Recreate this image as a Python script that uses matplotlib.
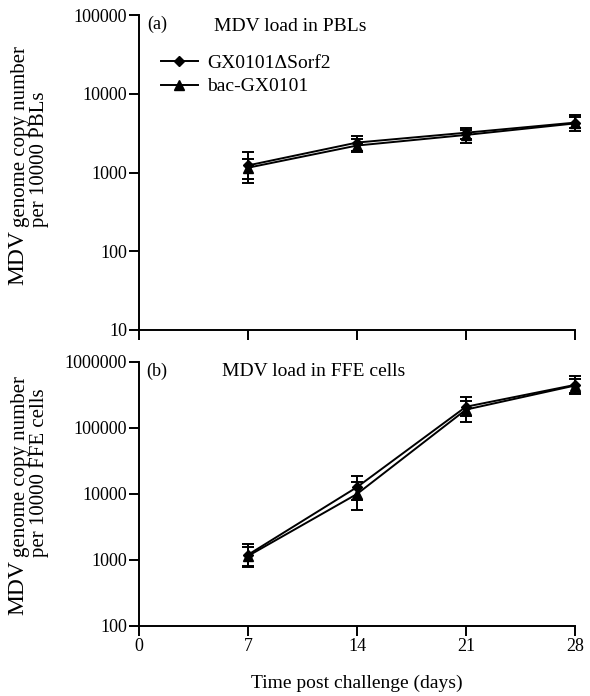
import numpy as np
import matplotlib
matplotlib.use("Agg")
import matplotlib.pyplot as plt
from matplotlib.lines import Line2D

plt.rcParams['font.family'] = ['Liberation Serif', 'DejaVu Serif']

days = [7, 14, 21, 28]
xtick_vals = [0, 7, 14, 21, 28]

# (a) MDV load in PBLs
pbl_sorf2 = [1230, 2400, 3200, 4300]
pbl_sorf2_hi = [1800, 2950, 3700, 5400]
pbl_sorf2_lo = [815, 1900, 2700, 3700]
pbl_bac = [1150, 2200, 3000, 4200]
pbl_bac_hi = [1500, 2700, 3500, 5000]
pbl_bac_lo = [740, 1800, 2400, 3400]

# (b) MDV load in FFE cells
ffe_sorf2 = [1200, 12700, 210000, 450000]
ffe_sorf2_hi = [1750, 18800, 295000, 610000]
ffe_sorf2_lo = [800, 8000, 150000, 340000]
ffe_bac = [1150, 10000, 190000, 440000]
ffe_bac_hi = [1600, 15000, 260000, 560000]
ffe_bac_lo = [780, 5700, 123000, 330000]

yticks_a = [10, 100, 1000, 10000, 100000]
yticks_b = [100, 1000, 10000, 100000, 1000000]

W, H = 590, 696
fig = plt.figure(figsize=(W / 100, H / 100), dpi=100)


def px_axes(left, top, right, bottom):
    return fig.add_axes([left / W, 1 - bottom / H, (right - left) / W, (bottom - top) / H])


def draw_series(ax, y, hi, lo, marker, ms):
    y = np.array(y, dtype=float)
    err = [y - np.array(lo), np.array(hi) - y]
    ax.errorbar(days, y, yerr=err, fmt='-', marker=marker, ms=ms, color='black',
                lw=1.4, elinewidth=1.4, capsize=4, capthick=1.4,
                clip_on=False, zorder=3)


def style_axes(ax, yticks):
    ax.set_yscale('log')
    ax.set_xlim(0, 28)
    ax.set_ylim(yticks[0], yticks[-1])
    for s in ['top', 'right']:
        ax.spines[s].set_visible(False)
    for s in ['left', 'bottom']:
        ax.spines[s].set_linewidth(1.4)
    ax.set_yticks(yticks)
    ax.set_yticklabels([str(v) for v in yticks])
    ax.yaxis.set_minor_locator(matplotlib.ticker.NullLocator())
    ax.set_xticks(xtick_vals)
    ax.tick_params(direction='out', length=7, width=1.4, labelsize=13, pad=1.5)


ax1 = px_axes(139, 15, 575, 330)
ax2 = px_axes(139, 362, 575, 626)

draw_series(ax1, pbl_sorf2, pbl_sorf2_hi, pbl_sorf2_lo, 'D', 5.5)
draw_series(ax1, pbl_bac, pbl_bac_hi, pbl_bac_lo, '^', 7.5)
draw_series(ax2, ffe_sorf2, ffe_sorf2_hi, ffe_sorf2_lo, 'D', 5.5)
draw_series(ax2, ffe_bac, ffe_bac_hi, ffe_bac_lo, '^', 7.5)

style_axes(ax1, yticks_a)
style_axes(ax2, yticks_b)
ax1.set_xticklabels([])
ax2.set_xlabel('Time post challenge (days)', fontsize=14, labelpad=14)

ax1.text(0.018, 0.97, '(a)', transform=ax1.transAxes, fontsize=13, va='center')
ax1.text(0.172, 0.965, 'MDV load in PBLs', transform=ax1.transAxes, fontsize=14, va='center')
ax2.text(0.016, 0.965, '(b)', transform=ax2.transAxes, fontsize=13, va='center')
ax2.text(0.19, 0.965, 'MDV load in FFE cells', transform=ax2.transAxes, fontsize=14, va='center')

handles = [Line2D([], [], color='black', lw=1.4, marker='D', ms=5.5),
           Line2D([], [], color='black', lw=1.4, marker='^', ms=7.5)]
ax1.legend(handles, ['GX0101\u0394Sorf2', 'bac-GX0101'], loc='upper left',
           bbox_to_anchor=(0.05, 0.875), frameon=False, fontsize=14,
           handlelength=1.9, handletextpad=0.5, labelspacing=0.3, borderpad=0,
           borderaxespad=0)

# y labels: larger "MDV" followed by two left-aligned lines
fig.canvas.draw()
renderer = fig.canvas.get_renderer()


def ylabel(bottom_px, line1, line2):
    mdv = fig.text(18 / W, 1 - bottom_px / H, 'MDV', rotation=90, fontsize=17,
                   ha='center', va='bottom')
    ext = mdv.get_window_extent(renderer)
    rest = fig.text(30 / W, (ext.y1 + 3) / fig.bbox.height, line1 + '\n' + line2,
                    rotation=90, fontsize=15, ha='center', va='bottom',
                    multialignment='left', linespacing=1.0)
    return rest


ylabel(285, 'genome copy number', 'per 10000 PBLs')
ylabel(615, 'genome copy number', 'per 10000 FFE cells')

fig.savefig('out.png', dpi=100)
